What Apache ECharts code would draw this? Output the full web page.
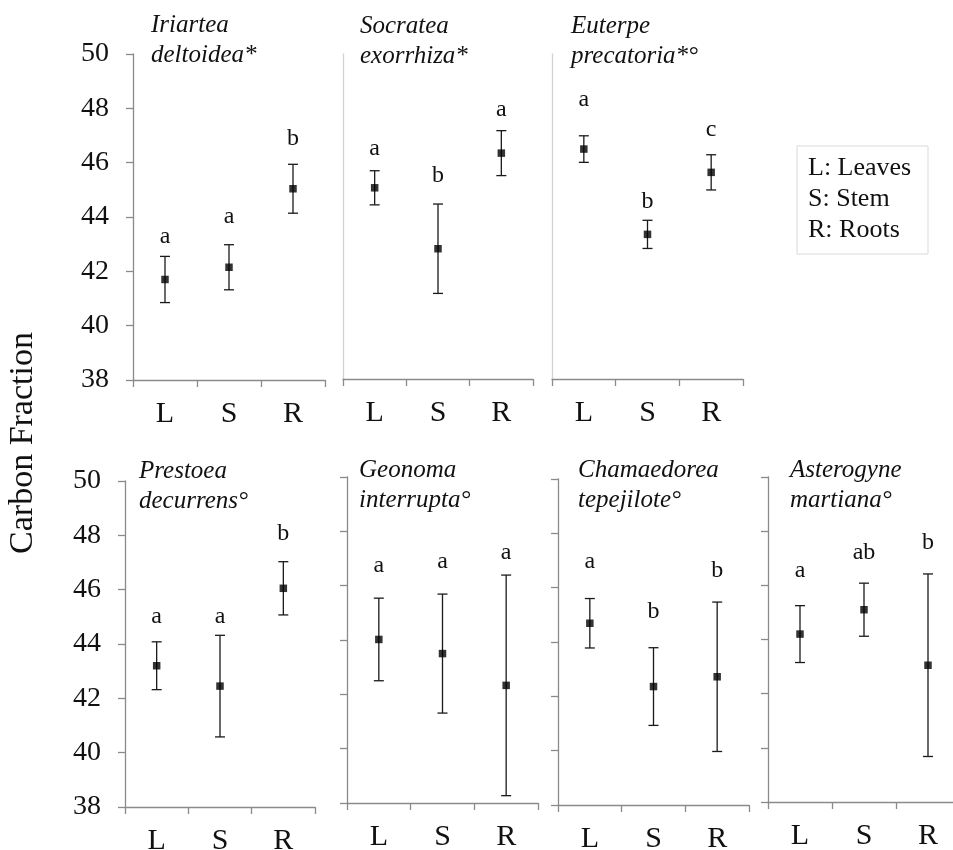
<!DOCTYPE html>
<html>
<head>
<meta charset="utf-8">
<script src="https://cdn.jsdelivr.net/npm/echarts@6/dist/echarts.min.js"></script>
<style>html,body{margin:0;padding:0;background:#fff}#c{width:953px;height:850px}</style>
</head>
<body>
<div id="c"></div>
<script>
// ---- data ----
const categories = ['L', 'S', 'R'];
const species = [
  'Iriartea\ndeltoidea*',
  'Socratea\nexorrhiza*',
  'Euterpe\nprecatoria*°',
  'Prestoea\ndecurrens°',
  'Geonoma\ninterrupta°',
  'Chamaedorea\ntepejilote°',
  'Asterogyne\nmartiana°'
];
const means = [
  [41.70, 42.15, 45.04],
  [45.06, 42.81, 46.34],
  [46.49, 43.34, 45.63],
  [43.20, 42.45, 46.05],
  [44.02, 43.50, 42.33],
  [44.69, 42.36, 42.72],
  [44.20, 45.10, 43.05]
];
const errors = [
  [0.85, 0.83, 0.90],
  [0.63, 1.65, 0.83],
  [0.49, 0.52, 0.65],
  [0.88, 1.87, 0.98],
  [1.52, 2.19, 4.06],
  [0.91, 1.43, 2.75],
  [1.05, 0.98, 3.37]
];
const letters = [
  ['a', 'a', 'b'],
  ['a', 'b', 'a'],
  ['a', 'b', 'c'],
  ['a', 'a', 'b'],
  ['a', 'a', 'a'],
  ['a', 'b', 'b'],
  ['a', 'ab', 'b']
];
// height (in carbon-fraction units) at which each significance letter is written
const letterAt = [
  [43.28, 44.01, 46.90],
  [46.50, 45.52, 47.94],
  [48.31, 44.56, 47.20],
  [45.00, 45.00, 48.07],
  [46.74, 46.87, 47.20],
  [46.94, 45.12, 46.62],
  [46.55, 47.22, 47.56]
];
const yTicks = { min: 38, max: 50, step: 2 };
const yTitle = 'Carbon Fraction';
const legendLines = ['L: Leaves', 'S: Stem', 'R: Roots'];

// ---- layout ----
const SERIF = '"Liberation Serif", "Times New Roman", serif';
const AX = '#8a8a8a';
const grids = [
  { left: 133, top: 54, width: 192, height: 326 },
  { left: 343, top: 54, width: 190, height: 325 },
  { left: 552, top: 54, width: 191, height: 325 },
  { left: 125, top: 481, width: 190, height: 326 },
  { left: 347, top: 477, width: 191, height: 326 },
  { left: 558, top: 479, width: 191, height: 326 },
  { left: 768, top: 477, width: 192, height: 325 }
];
const titlePos = [
  [151, 10], [360, 11], [571, 11],
  [139, 456], [359, 455], [578, 455], [790, 455]
];
const showYLabels = [true, false, false, true, false, false, false];
const faintY = [false, true, true, false, false, false, false];

const chart = echarts.init(document.getElementById('c'), null, { renderer: 'canvas' });

const option = {
  animation: false,
  backgroundColor: '#fff',
  grid: grids.map(g => Object.assign({ outerBoundsMode: 'none', containLabel: false }, g)),
  title: species.map((s, i) => ({
    text: s,
    left: titlePos[i][0],
    top: titlePos[i][1],
    padding: 0,
    textStyle: { fontFamily: SERIF, fontStyle: 'italic', fontWeight: 'normal', fontSize: 25, lineHeight: 30, color: '#111' }
  })),
  xAxis: grids.map((g, i) => ({
    type: 'category',
    gridIndex: i,
    data: categories,
    boundaryGap: true,
    axisLine: { show: true, lineStyle: { color: AX, width: 1.3 } },
    axisTick: { show: true, interval: 0, length: 7, lineStyle: { color: AX, width: 1.3 } },
    axisLabel: { interval: 0, margin: 19, fontFamily: SERIF, fontSize: 30, color: '#111' },
    splitLine: { show: false }
  })),
  yAxis: grids.map((g, i) => ({
    type: 'value',
    gridIndex: i,
    min: yTicks.min,
    max: yTicks.max,
    interval: yTicks.step,
    axisLine: { show: true, lineStyle: { color: faintY[i] ? '#d2d2d2' : AX, width: 1.3 } },
    axisTick: { show: !faintY[i], length: 7, lineStyle: { color: AX, width: 1.3 } },
    axisLabel: { show: showYLabels[i], margin: 24, fontFamily: SERIF, fontSize: 28, color: '#111' },
    splitLine: { show: false }
  })),
  series: []
};

means.forEach((m, p) => {
  // error bars
  option.series.push({
    type: 'custom',
    xAxisIndex: p, yAxisIndex: p,
    data: m.map((v, k) => [k, v - errors[p][k], v + errors[p][k]]),
    encode: { x: 0, y: [1, 2] },
    renderItem: (params, api) => {
      const x = api.value(0);
      const a = api.coord([x, api.value(2)]);
      const b = api.coord([x, api.value(1)]);
      const hw = 5;
      const st = { stroke: '#1a1a1a', lineWidth: 1.3 };
      return {
        type: 'group',
        children: [
          { type: 'line', shape: { x1: a[0], y1: a[1], x2: b[0], y2: b[1] }, style: st },
          { type: 'line', shape: { x1: a[0] - hw, y1: a[1], x2: a[0] + hw, y2: a[1] }, style: st },
          { type: 'line', shape: { x1: b[0] - hw, y1: b[1], x2: b[0] + hw, y2: b[1] }, style: st }
        ]
      };
    },
    z: 2
  });
  // means
  option.series.push({
    type: 'scatter',
    xAxisIndex: p, yAxisIndex: p,
    data: m.map((v, k) => [k, v]),
    symbol: 'rect',
    symbolSize: 7.5,
    itemStyle: { color: '#000' },
    z: 3
  });
  // letters
  option.series.push({
    type: 'custom',
    xAxisIndex: p, yAxisIndex: p,
    data: letters[p].map((t, k) => [k, letterAt[p][k], t]),
    encode: { x: 0, y: 1 },
    renderItem: (params, api) => {
      const pt = api.coord([api.value(0), api.value(1)]);
      return {
        type: 'text',
        x: pt[0], y: pt[1],
        style: {
          text: letters[p][params.dataIndex],
          fontFamily: SERIF, fontSize: 24, fill: '#111',
          align: 'center', verticalAlign: 'middle'
        }
      };
    },
    z: 4
  });
});

option.graphic = [
  {
    type: 'text',
    x: 23, y: 443,
    rotation: Math.PI / 2,
    style: { text: yTitle, fontFamily: SERIF, fontSize: 34, fill: '#111', align: 'center', verticalAlign: 'middle' }
  },
  {
    type: 'rect',
    shape: { x: 797, y: 146, width: 131, height: 108 },
    style: { fill: '#fff', stroke: '#d9d9d9', lineWidth: 1 }
  },
  ...legendLines.map((t, i) => ({
    type: 'text',
    x: 808, y: 168 + i * 31,
    style: { text: t, fontFamily: SERIF, fontSize: 26, fill: '#111', align: 'left', verticalAlign: 'middle' }
  }))
];

chart.setOption(option);
</script>
</body>
</html>
